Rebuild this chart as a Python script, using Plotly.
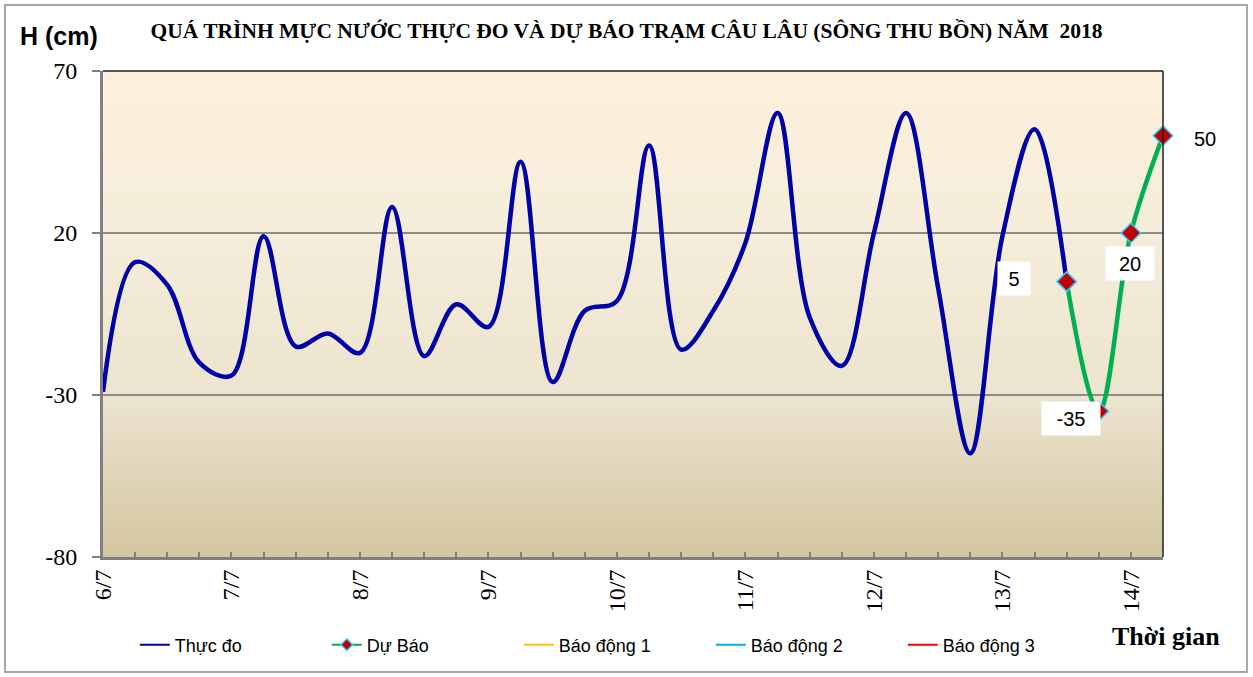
import plotly.graph_objects as go

# ---------------- data ----------------
days = ["6/7", "7/7", "8/7", "9/7", "10/7", "11/7", "12/7", "13/7", "14/7"]
steps_per_day = 4  # one reading every 6 hours
n_slots = 34
slot_labels = []
for i in range(n_slots):
    slot_labels.append(days[i // steps_per_day] if i % steps_per_day == 0 else "")

observed = [-29, 11, 4, -20, -24, 19, -15, -11, -17, 28,
            -18, -2, -9, 42, -26, -4, -1, 47, -16, -4,
            17, 57, -6, -21, 20, 57, 3, -48, 19, 52, 5]
forecast_idx = [30, 31, 32, 33]
forecast = [5, -35, 20, 50]
alarm_levels = {"Báo động 1": 200, "Báo động 2": 300, "Báo động 3": 400}
alarm_colors = {"Báo động 1": "#FFC000", "Báo động 2": "#00B0F0", "Báo động 3": "#FF0000"}
y_ticks = [-80, -30, 20, 70]
y_ticktext = ["-80", "-30", "20", "70"]

title_text = "QUÁ TRÌNH MỰC NƯỚC THỰC ĐO VÀ DỰ BÁO TRẠM CÂU LÂU (SÔNG THU BỒN) NĂM  2018"

SERIF = "Liberation Serif, Times New Roman, serif"
SANS = "Liberation Sans, Arial, sans-serif"

OBS_COLOR = "#0000A8"
FC_COLOR = "#00B050"

fig = go.Figure()
fig.add_trace(go.Scatter(
    x=list(range(len(observed))), y=observed, name="Thực đo", mode="lines",
    line=dict(color=OBS_COLOR, width=4.5, shape="spline", smoothing=1.0),
    showlegend=False,
))
fig.add_trace(go.Scatter(
    x=forecast_idx, y=forecast, name="Dự Báo", mode="lines+markers",
    line=dict(color=FC_COLOR, width=4.5, shape="spline", smoothing=1.0),
    marker=dict(symbol="diamond", size=15, color="#C00000",
                line=dict(color="#33CCFF", width=1.5)),
    cliponaxis=False, showlegend=False,
))
for name, lvl in alarm_levels.items():
    fig.add_trace(go.Scatter(
        x=[0, n_slots - 1], y=[lvl, lvl], name=name, mode="lines",
        line=dict(color=alarm_colors[name], width=2), showlegend=False,
    ))

# legend entries (thin symbols as in the original legend)
fig.add_trace(go.Scatter(x=[None], y=[None], name="Thực đo", mode="lines",
                         line=dict(color=OBS_COLOR, width=2)))
fig.add_trace(go.Scatter(x=[None], y=[None], name="Dự Báo", mode="lines+markers",
                         line=dict(color=FC_COLOR, width=2),
                         marker=dict(symbol="diamond", size=9, color="#C00000",
                                     line=dict(color="#33CCFF", width=1.5))))
for name in alarm_levels:
    fig.add_trace(go.Scatter(x=[None], y=[None], name=name, mode="lines",
                             line=dict(color=alarm_colors[name], width=2)))

# ---------- background gradient (style only) ----------
stops = [(0.0, (211, 197, 161)), (0.33, (236, 228, 206)),
         (0.67, (245, 237, 218)), (1.0, (253, 240, 220))]
def col_at(f):
    for (f0, c0), (f1, c1) in zip(stops[:-1], stops[1:]):
        if f0 <= f <= f1:
            t = (f - f0) / (f1 - f0)
            return "rgb(%d,%d,%d)" % tuple(round(a + (b - a) * t) for a, b in zip(c0, c1))
    return "rgb(%d,%d,%d)" % stops[-1][1]
nb = 90
shapes = []
for i in range(nb):
    f0, f1 = i / nb, (i + 1) / nb
    shapes.append(dict(type="rect", xref="x domain", yref="y domain",
                       x0=0, x1=1, y0=f0, y1=f1 + 0.002, layer="below",
                       line=dict(width=0), fillcolor=col_at((f0 + f1) / 2)))
# top/right plot border
shapes.append(dict(type="line", xref="paper", yref="paper", x0=0, x1=1, y0=1, y1=1,
                   line=dict(color="#202020", width=1.5)))
shapes.append(dict(type="line", xref="paper", yref="paper", x0=1, x1=1, y0=0, y1=1,
                   line=dict(color="#202020", width=1.5)))
# outer chart frame
shapes.append(dict(type="rect", xref="paper", yref="paper",
                   x0=-0.0925, x1=1.0792, y0=-0.2366, y1=1.1358,
                   line=dict(color="#A6A6A6", width=2)))

annotations = [
    dict(text="H (cm)", xref="paper", yref="paper", x=-0.0802, y=1.072,
         xanchor="left", yanchor="middle", showarrow=False,
         font=dict(family=SANS, size=25, color="black", weight="bold")),
    dict(text="Thời gian", xref="paper", yref="paper", x=1.0557, y=-0.1626,
         xanchor="right", yanchor="middle", showarrow=False,
         font=dict(family=SERIF, size=26, color="black", weight="bold")),
]
label_shifts = [(-53, 3, 30), (-28, -7, 56), (-1, -30, 46), (42, -3, None)]
for xi, v, (dx, dy, w) in zip(forecast_idx, forecast, label_shifts):
    a = dict(text=str(v), x=xi, y=v, xref="x", yref="y", showarrow=False,
             xshift=dx, yshift=dy, xanchor="center", yanchor="middle",
             font=dict(family=SANS, size=20, color="black"))
    if w:
        a.update(bgcolor="white", width=w, height=31)
    annotations.append(a)

fig.update_layout(
    width=1253, height=677,
    margin=dict(l=103, r=90, t=71, b=120, autoexpand=False),
    paper_bgcolor="white", plot_bgcolor="rgb(253,240,220)",
    title=dict(text=title_text, x=0.5, xref="container", y=1 - 30 / 677,
               yref="container", xanchor="center", yanchor="middle",
               font=dict(family=SERIF, size=21.5, color="black", weight="bold")),
    xaxis=dict(range=[0, n_slots - 1], tickmode="array",
               tickvals=list(range(n_slots)), ticktext=slot_labels,
               ticks="inside", ticklen=5, tickwidth=1.5, tickcolor="#808080",
               tickangle=-90, tickfont=dict(family=SERIF, size=24, color="black"),
               showgrid=False, zeroline=False, automargin=False,
               showline=True, linecolor="#808080", linewidth=3),
    yaxis=dict(range=[-80, 70], tickmode="array", tickvals=y_ticks, ticktext=y_ticktext,
               ticks="outside", ticklen=8, tickwidth=1.5, tickcolor="#808080",
               tickfont=dict(family=SERIF, size=24, color="black"),
               ticklabelstandoff=10,
               showgrid=True, gridcolor="#8C8C8C", gridwidth=1.5, zeroline=False,
               automargin=False,
               showline=True, linecolor="#808080", linewidth=3),
    legend=dict(orientation="h", x=0.03, xanchor="left", y=-0.181, yanchor="middle",
                font=dict(family=SANS, size=18, color="black"),
                entrywidth=147, entrywidthmode="pixels",
                bgcolor="rgba(0,0,0,0)"),
    shapes=shapes, annotations=annotations,
)

fig.write_html("out.html", config={"displayModeBar": False},
               post_script="document.body.style.margin='0px';")
